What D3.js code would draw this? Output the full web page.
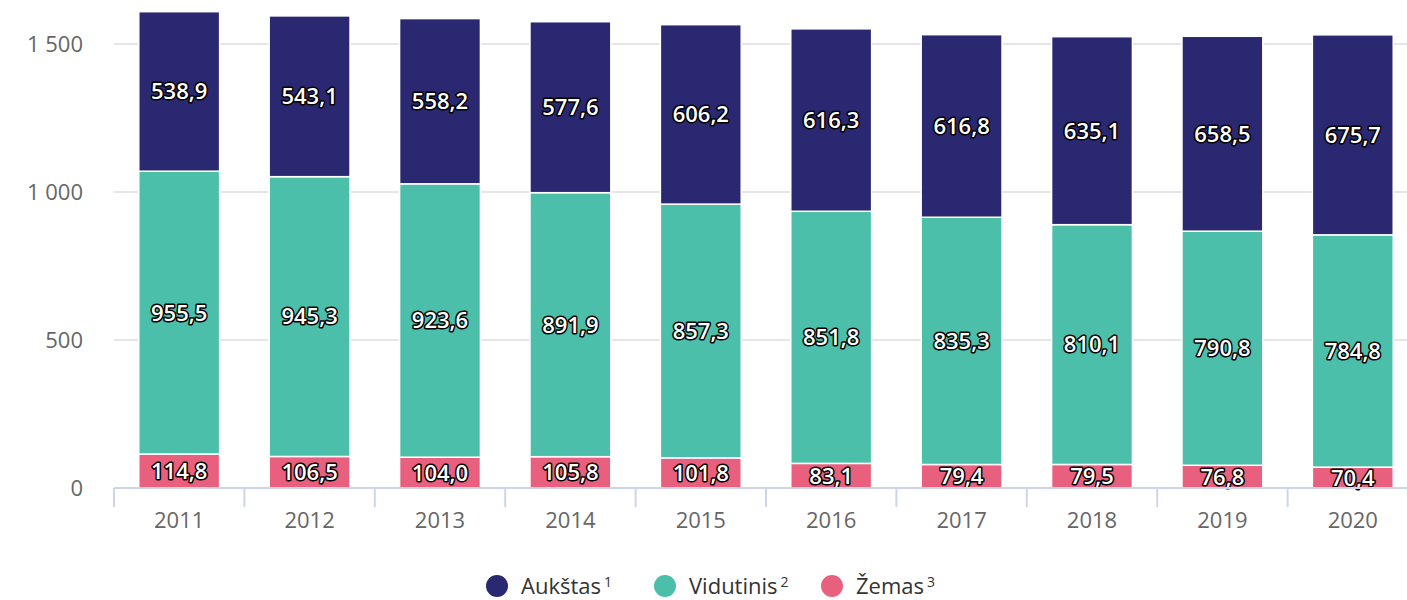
<!DOCTYPE html>
<html>
<head>
<meta charset="utf-8">
<script src="https://cdn.jsdelivr.net/npm/d3@7"></script>
<style>
  body { margin: 0; background: #fff; }
  svg { display: block; font-family: "Open Sans", "DejaVu Sans", sans-serif; }
</style>
</head>
<body>
<svg id="chart"></svg>
<script>
const years = ['2011','2012','2013','2014','2015','2016','2017','2018','2019','2020'];
const zemas = [114.8, 106.5, 104.0, 105.8, 101.8, 83.1, 79.4, 79.5, 76.8, 70.4];
const vidutinis = [955.5, 945.3, 923.6, 891.9, 857.3, 851.8, 835.3, 810.1, 790.8, 784.8];
const aukstas = [538.9, 543.1, 558.2, 577.6, 606.2, 616.3, 616.8, 635.1, 658.5, 675.7];
const yTicks = [0, 500, 1000, 1500];

const seriesKeys = ['zemas', 'vidutinis', 'aukstas'];
const colors = { aukstas: '#2a2870', vidutinis: '#4bbfa9', zemas: '#e8607e' };
const legendItems = [
	{ key: 'aukstas', name: 'Aukštas', sup: '1' },
	{ key: 'vidutinis', name: 'Vidutinis', sup: '2' },
	{ key: 'zemas', name: 'Žemas', sup: '3' }
];

const geom = {
	width: 1407,
	height: 600,
	margins: { left: 114, right: -11, top: 0, bottom: 112 }
};

const table = years.map((y, i) => ({ year: y, zemas: zemas[i], vidutinis: vidutinis[i], aukstas: aukstas[i] }));
const stacked = d3.stack().keys(seriesKeys)(table);

const svg = d3.select('#chart')
	.attr('width', geom.width)
	.attr('height', geom.height);

const x = d3.scaleBand()
	.domain(years)
	.range([geom.margins.left, geom.width - geom.margins.right])
	.paddingInner(0.38)
	.paddingOuter(0.19);

const xEdges = d3.scaleBand()
	.domain(years)
	.range([geom.margins.left, geom.width - geom.margins.right]);

const y = d3.scaleLinear()
	.domain([0, 1500])
	.range([488, 44]);

const fmtTick = d => d3.format(',')(d).replace(/,/g, ' ');
const fmtVal = d => d.toFixed(1).replace('.', ',');

// gridlines
svg.append('g')
	.selectAll('line.grid')
	.data(yTicks.filter(d => d > 0))
	.enter()
	.append('line')
	.attr('class', 'grid')
	.attr('x1', geom.margins.left)
	.attr('x2', geom.width)
	.attr('y1', d => y(d))
	.attr('y2', d => y(d))
	.attr('stroke', '#e6e6e6')
	.attr('stroke-width', 2);

// y labels
svg.append('g')
	.selectAll('text.ylab')
	.data(yTicks)
	.enter()
	.append('text')
	.attr('class', 'ylab')
	.attr('x', 83)
	.attr('y', d => y(d))
	.attr('dy', '0.35em')
	.attr('text-anchor', 'end')
	.attr('fill', '#666')
	.attr('font-size', '22px')
	.text(fmtTick);

// bars
const layers = svg.append('g')
	.selectAll('g.layer')
	.data(stacked)
	.enter()
	.append('g')
	.attr('class', 'layer')
	.attr('fill', d => colors[d.key]);

layers.selectAll('rect')
	.data(d => d)
	.enter()
	.append('rect')
	.attr('x', d => x(d.data.year))
	.attr('width', x.bandwidth())
	.attr('y', d => y(d[1]))
	.attr('height', d => y(d[0]) - y(d[1]))
	.attr('stroke', '#fff')
	.attr('stroke-width', 1.5);

// x axis
const xAxis = svg.append('g')
	.attr('transform', 'translate(0,488)');
xAxis.append('line')
	.attr('x1', geom.margins.left)
	.attr('x2', geom.width)
	.attr('stroke', '#ccd6eb')
	.attr('stroke-width', 2);
xAxis.selectAll('line.tick')
	.data(years)
	.enter()
	.append('line')
	.attr('class', 'tick')
	.attr('x1', d => xEdges(d))
	.attr('x2', d => xEdges(d))
	.attr('y1', 0)
	.attr('y2', 19)
	.attr('stroke', '#ccd6eb')
	.attr('stroke-width', 2);
xAxis.selectAll('text')
	.data(years)
	.enter()
	.append('text')
	.attr('x', d => x(d) + x.bandwidth() / 2)
	.attr('y', 40)
	.attr('text-anchor', 'middle')
	.attr('fill', '#666')
	.attr('font-size', '22px')
	.text(d => d);

// data labels
layers.selectAll('text')
	.data(d => d)
	.enter()
	.append('text')
	.attr('x', d => x(d.data.year) + x.bandwidth() / 2)
	.attr('y', d => (y(d[0]) + y(d[1])) / 2)
	.attr('dy', '0.36em')
	.attr('text-anchor', 'middle')
	.attr('font-size', '22px')
	.attr('font-weight', 600)
	.attr('fill', '#fff')
	.attr('stroke', '#000')
	.attr('stroke-width', 3)
	.attr('stroke-linejoin', 'round')
	.attr('paint-order', 'stroke')
	.text(d => fmtVal(d[1] - d[0]));

// legend
const legendX = [497, 665, 832];
const legend = svg.append('g')
	.selectAll('g.legend')
	.data(legendItems)
	.enter()
	.append('g')
	.attr('class', 'legend')
	.attr('transform', (d, i) => 'translate(' + legendX[i] + ',586)');
legend.append('circle')
	.attr('r', 11)
	.attr('fill', d => colors[d.key]);
const ltext = legend.append('text')
	.attr('x', 24)
	.attr('dy', '0.35em')
	.attr('font-size', '22px')
	.attr('fill', '#333');
ltext.append('tspan').text(d => d.name);
ltext.append('tspan')
	.attr('font-size', '14px')
	.attr('dy', '-0.5em')
	.attr('dx', '3')
	.text(d => d.sup);
</script>
</body>
</html>
